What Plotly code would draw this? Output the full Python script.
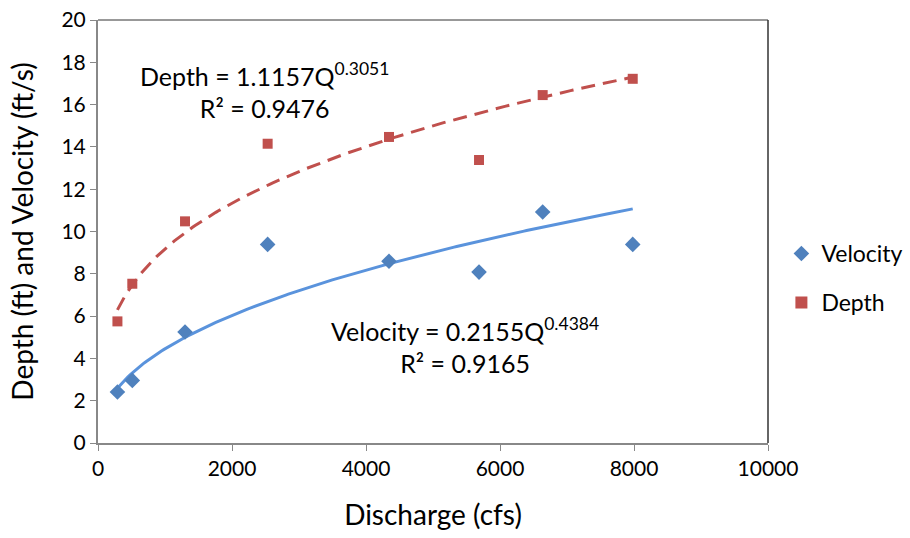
import numpy as np
import plotly.graph_objects as go

# Data
discharge = [290, 512, 1299, 2532, 4343, 5687, 6637, 7981]
velocity = [2.41, 2.96, 5.25, 9.39, 8.59, 8.08, 10.92, 9.39]
depth = [5.75, 7.53, 10.48, 14.15, 14.47, 13.38, 16.45, 17.22]

# Power trendline coefficients (from the chart labels)
vel_a, vel_b = 0.2155, 0.4384
dep_a, dep_b = 1.1157, 0.3051

x_ticks = [0, 2000, 4000, 6000, 8000, 10000]
x_tick_text = ["0", "2000", "4000", "6000", "8000", "10000"]
y_ticks = [0, 2, 4, 6, 8, 10, 12, 14, 16, 18, 20]

FONT = "Lato"
BLUE = "#4F81BD"
BLUE_LINE = "#5A93DC"
RED = "#C0504D"

q = np.linspace(min(discharge), max(discharge), 200)

fig = go.Figure()
fig.add_trace(go.Scatter(x=q, y=vel_a * q ** vel_b, mode="lines",
                         line=dict(color=BLUE_LINE, width=3), showlegend=False,
                         hoverinfo="skip"))
fig.add_trace(go.Scatter(x=q, y=dep_a * q ** dep_b, mode="lines",
                         line=dict(color=RED, width=3, dash="14px,8px"), showlegend=False,
                         hoverinfo="skip"))
fig.add_trace(go.Scatter(x=discharge, y=velocity, mode="markers", name="Velocity",
                         legendgroup="v",
                         marker=dict(symbol="diamond", color=BLUE, size=12)))
fig.add_trace(go.Scatter(x=discharge, y=depth, mode="markers", name="Depth",
                         legendgroup="d",
                         marker=dict(symbol="square", color=RED, size=10)))

fig.add_annotation(x=2478, y=16.65, xref="x", yref="y",
                   text="Depth = 1.1157Q<sup>0.3051</sup><br>R² = 0.9476",
                   showarrow=False, font=dict(family=FONT, size=25, color="black"),
                   align="center")
fig.add_annotation(x=5480, y=4.63, xref="x", yref="y",
                   text="Velocity = 0.2155Q<sup>0.4384</sup><br>R² = 0.9165",
                   showarrow=False, font=dict(family=FONT, size=25, color="black"),
                   align="center")

# top/right border
fig.add_shape(type="line", xref="paper", yref="paper", x0=0, x1=1, y0=1, y1=1,
              line=dict(color="#333333", width=1))
fig.add_shape(type="line", xref="paper", yref="paper", x0=1, x1=1, y0=0, y1=1,
              line=dict(color="#333333", width=1.5))

fig.update_layout(
    width=910, height=538,
    margin=dict(l=98, r=142, t=20, b=95, autoexpand=False),
    paper_bgcolor="white", plot_bgcolor="white",
    font=dict(family=FONT, size=21, color="black"),
    legend=dict(x=1.02, y=0.39, xanchor="left", yanchor="middle",
                font=dict(family=FONT, size=23), tracegroupgap=16,
                itemsizing="constant"),
    xaxis=dict(range=[0, 10000], tickvals=x_ticks, ticktext=x_tick_text,
               ticks="outside", ticklen=6,
               tickcolor="#888888", showline=True, linecolor="#888888", linewidth=2,
               showgrid=False, zeroline=False,
               title=dict(text="Discharge (cfs)", font=dict(size=28), standoff=26)),
    yaxis=dict(range=[0, 20], tickvals=y_ticks, ticks="outside", ticklen=6,
               tickcolor="#888888", showline=True, linecolor="#888888", linewidth=2,
               showgrid=False, zeroline=False,
               title=dict(text="Depth (ft) and Velocity (ft/s)", font=dict(size=28),
                          standoff=20)),
)

fig.write_html("out.html")
